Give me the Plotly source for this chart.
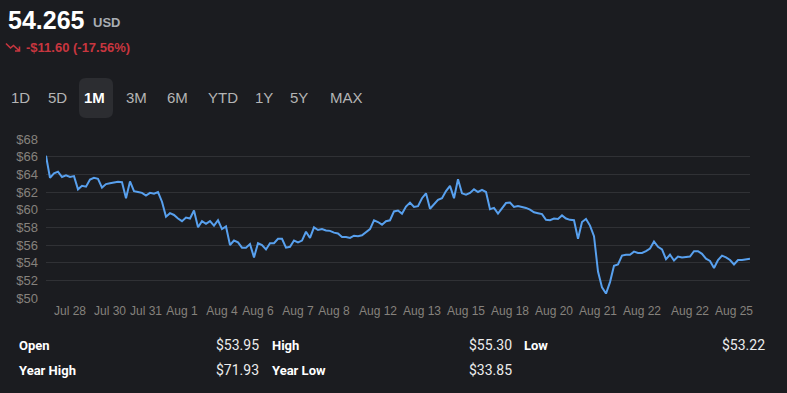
import plotly.graph_objects as go

# ---------------- data ----------------
prices = [
    66.1, 63.6, 64.1, 64.3, 63.7, 63.9, 63.7, 63.8, 62.3, 62.7,
    62.6, 63.4, 63.6, 63.5, 62.5, 62.9, 63.0, 63.1, 63.15, 63.1,
    61.3, 63.2, 62.1, 62.0, 61.9, 61.6, 61.9, 61.8, 62.0, 60.9,
    59.2, 59.6, 59.4, 59.0, 58.7, 59.1, 59.0, 59.9, 58.0, 58.7,
    58.4, 58.7, 58.2, 58.8, 57.8, 58.1, 56.0, 56.5, 56.3, 55.7,
    55.7, 56.1, 54.6, 56.2, 56.0, 55.5, 56.2, 56.2, 56.7, 56.7,
    55.7, 55.8, 56.5, 56.3, 56.5, 57.5, 56.8, 58.0, 57.7, 57.8,
    57.65, 57.6, 57.4, 57.3, 56.9, 56.9, 56.8, 57.05, 57.0, 57.1,
    57.4, 57.8, 58.8, 58.6, 58.3, 58.7, 58.8, 59.8, 59.9, 59.55,
    60.35, 60.8, 60.3, 60.4, 61.3, 61.85, 60.1, 60.6, 61.1, 61.3,
    62.1, 62.7, 61.3, 63.45, 61.85, 61.7, 61.9, 62.3, 62.0, 62.25,
    62.0, 60.05, 60.2, 59.55, 60.1, 60.75, 60.8, 60.3, 60.4, 60.3,
    60.2, 60.0, 59.7, 59.6, 59.5, 58.85, 58.8, 59.0, 58.95, 59.35,
    59.0, 58.85, 58.8, 56.7, 58.6, 58.95, 58.2, 57.0, 53.0, 51.2,
    50.5, 51.8, 53.65, 53.8, 54.8, 54.9, 54.9, 55.25, 55.1, 55.1,
    55.3, 55.6, 56.4, 55.8, 55.5, 54.4, 54.9, 54.25, 54.7, 54.6,
    54.65, 54.7, 55.3, 55.3, 55.0, 54.45, 54.2, 53.4, 54.3, 54.8,
    54.6, 54.3, 53.8, 54.3, 54.3, 54.35, 54.45,
]
steps = list(range(len(prices)))

tick_index = [6, 16, 25, 34, 44, 53, 63, 72, 83, 94, 105, 116, 127, 138, 149, 161, 172]
tick_labels = ["Jul 28", "Jul 30", "Jul 31", "Aug 1", "Aug 4", "Aug 6", "Aug 7", "Aug 8",
               "Aug 12", "Aug 13", "Aug 15", "Aug 18", "Aug 20", "Aug 21", "Aug 22",
               "Aug 22", "Aug 25"]
y_ticks = [50, 52, 54, 56, 58, 60, 62, 64, 66, 68]
y_tick_labels = ["$" + str(v) for v in y_ticks]

last_price = "54.265"
currency = "USD"
change_text = "-$11.60 (-17.56%)"
ranges = ["1D", "5D", "1M", "3M", "6M", "YTD", "1Y", "5Y", "MAX"]
selected_range = "1M"
stats_row1 = [("Open", "$53.95"), ("High", "$55.30"), ("Low", "$53.22")]
stats_row2 = [("Year High", "$71.93"), ("Year Low", "$33.85")]

# ---------------- layout helpers ----------------
W, H = 787, 393
ML, MR, MT, MB = 46, 37, 139, 95
PW, PH = W - ML - MR, H - MT - MB


def px(x):
    return (x - ML) / PW


def py(y):
    return (H - MB - y) / PH


BG = "#1b1c20"
BLUE = "#58a0ee"
RED = "#c8363f"
GRID = "#303135"
TICK = "#86827d"

fig = go.Figure()
fig.add_trace(go.Scatter(
    x=steps, y=prices, mode="lines",
    line=dict(color=BLUE, width=2), hoverinfo="skip", showlegend=False,
))

annotations = []
# header
annotations.append(dict(x=px(6), y=py(20), xref="paper", yref="paper", xanchor="left", yanchor="middle",
                        text="<b>" + last_price + "</b>", showarrow=False,
                        font=dict(family="Liberation Sans, Arial", size=25, color="#ffffff")))
annotations.append(dict(x=px(91), y=py(23), xref="paper", yref="paper", xanchor="left", yanchor="middle",
                        text="<b>" + currency + "</b>", showarrow=False,
                        font=dict(family="Liberation Sans, Arial", size=13, color="#a9adb3")))
annotations.append(dict(x=px(24), y=py(47.5), xref="paper", yref="paper", xanchor="left", yanchor="middle",
                        text="<b>" + change_text + "</b>", showarrow=False,
                        font=dict(family="Liberation Sans, Arial", size=13, color=RED)))

# range buttons
btn_centers = [20.5, 57.5, 94, 136.5, 177, 222.5, 263.5, 298.5, 346]
for lab, cx in zip(ranges, btn_centers):
    sel = lab == selected_range
    annotations.append(dict(x=px(cx), y=py(97.5), xref="paper", yref="paper", xanchor="center",
                            yanchor="middle", showarrow=False,
                            text=("<b>" + lab + "</b>") if sel else lab,
                            font=dict(family="Liberation Sans, Arial", size=15,
                                      color="#ffffff" if sel else "#b4b4b4")))

# stats
col_label_x = [17, 270, 522]
col_value_x = [261, 514, 767]
for row, yy in ((stats_row1, 345), (stats_row2, 370)):
    for k, (lab, val) in enumerate(row):
        annotations.append(dict(x=px(col_label_x[k]), y=py(yy), xref="paper", yref="paper",
                                xanchor="left", yanchor="middle", showarrow=False,
                                text="<b>" + lab + "</b>",
                                font=dict(family="Roboto", size=13, color="#ffffff")))
        annotations.append(dict(x=px(col_value_x[k]), y=py(yy), xref="paper", yref="paper",
                                xanchor="right", yanchor="middle", showarrow=False,
                                text=val,
                                font=dict(family="Roboto", size=14, color="#ececec")))

# rounded selection box behind "1M"
x0, x1, y0, y1, r = 79, 113, 78, 118, 7
box_path = (f"M {px(x0 + r)} {py(y0)} L {px(x1 - r)} {py(y0)} "
            f"Q {px(x1)} {py(y0)} {px(x1)} {py(y0 + r)} L {px(x1)} {py(y1 - r)} "
            f"Q {px(x1)} {py(y1)} {px(x1 - r)} {py(y1)} L {px(x0 + r)} {py(y1)} "
            f"Q {px(x0)} {py(y1)} {px(x0)} {py(y1 - r)} L {px(x0)} {py(y0 + r)} "
            f"Q {px(x0)} {py(y0)} {px(x0 + r)} {py(y0)} Z")
shapes = [dict(type="path", path=box_path, xref="paper", yref="paper",
               fillcolor="#2c2d31", line=dict(width=0), layer="below")]

# trending-down icon
icon = (f"M {px(6)} {py(43.5)} L {px(10.5)} {py(48)} L {px(13.5)} {py(45.5)} L {px(19.5)} {py(51)} "
        f"M {px(15)} {py(51)} L {px(19.5)} {py(51)} L {px(19.5)} {py(46.5)}")
shapes.append(dict(type="path", path=icon, xref="paper", yref="paper",
                   line=dict(color=RED, width=1.6)))

fig.update_layout(
    width=W, height=H,
    margin=dict(l=ML, r=MR, t=MT, b=MB, pad=0),
    paper_bgcolor=BG, plot_bgcolor=BG,
    showlegend=False,
    hovermode=False,
    annotations=annotations,
    shapes=shapes,
    xaxis=dict(range=[0, len(prices) - 1], tickmode="array", tickvals=tick_index,
               ticktext=tick_labels, showgrid=False, zeroline=False, showline=False,
               ticks="", ticklabelstandoff=4,
               tickfont=dict(family="Liberation Sans, Arial", size=12, color=TICK)),
    yaxis=dict(range=[50, 68], tickmode="array", tickvals=y_ticks, ticktext=y_tick_labels,
               showgrid=True, gridcolor=GRID, gridwidth=1, zeroline=False, showline=False,
               ticks="", ticklabelstandoff=7,
               tickfont=dict(family="Liberation Sans, Arial", size=13, color=TICK)),
)

fig.write_html("out.html", config={"displayModeBar": False},
               post_script="document.body.style.margin='0';document.body.style.padding='0';"
                           "document.body.style.background='" + BG + "';")
